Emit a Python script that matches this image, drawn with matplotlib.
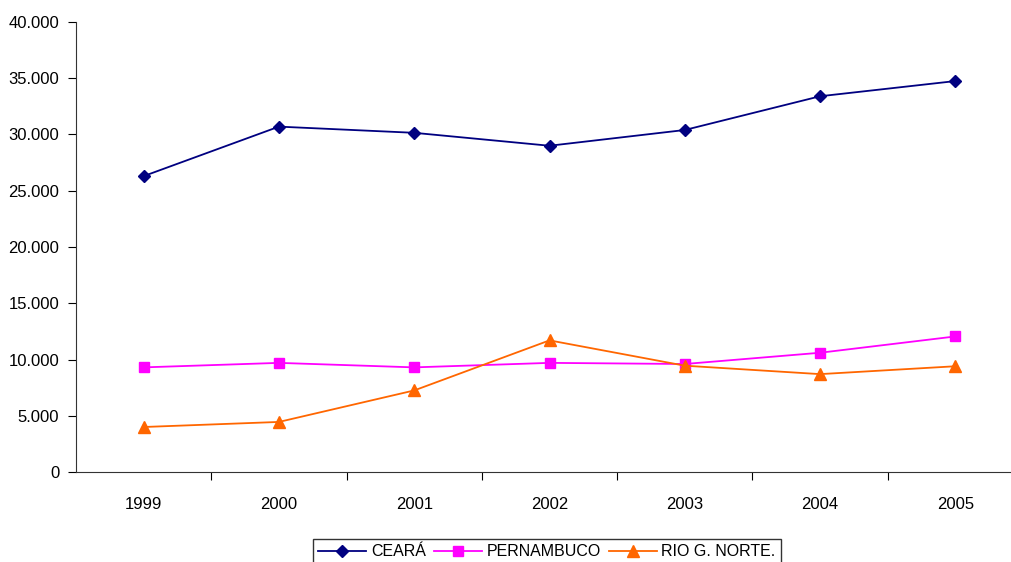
import matplotlib
matplotlib.use("Agg")
import matplotlib.pyplot as plt
from matplotlib.ticker import FuncFormatter

years = ["1999", "2000", "2001", "2002", "2003", "2004", "2005"]
ceara = [26300, 30700, 30150, 29000, 30400, 33400, 34750]
pernambuco = [9300, 9700, 9300, 9700, 9600, 10600, 12050]
rio_g_norte = [4000, 4450, 7250, 11700, 9450, 8700, 9400]

plt.rcParams.update({'font.family': 'Liberation Sans', 'font.size': 12})

fig = plt.figure(figsize=(10.11, 5.62), dpi=100)
ax = fig.add_axes([76 / 1011, 90 / 562, 947 / 1011, 450 / 562])

x = list(range(len(years)))
ax.plot(x, ceara, color='#000080', marker='D', markersize=6.5, linewidth=1.3, label='CEARÁ')
ax.plot(x, pernambuco, color='#FF00FF', marker='s', markersize=7, linewidth=1.3, label='PERNAMBUCO')
ax.plot(x, rio_g_norte, color='#FF6600', marker='^', markersize=8, linewidth=1.3, label='RIO G. NORTE.')

ax.set_xlim(-0.5, len(years) - 0.5)
ax.set_ylim(0, 40000)
ax.set_yticks(range(0, 40001, 5000))
ax.yaxis.set_major_formatter(FuncFormatter(lambda v, p: f"{int(v):,}".replace(",", ".")))

# category labels centred, ticks on the band edges
ax.set_xticks([i + 0.5 for i in x[:-1]])
ax.set_xticklabels([])
ax.set_xticks(x, minor=True)
ax.set_xticklabels(years, minor=True)
ax.tick_params(axis='x', which='minor', length=0, pad=18)
ax.tick_params(axis='x', which='major', length=6, direction='out')
ax.tick_params(axis='y', length=6, direction='out', pad=6)

for s in ['top', 'right']:
    ax.spines[s].set_visible(False)
for s in ['left', 'bottom']:
    ax.spines[s].set_color('#333333')

leg = fig.legend(loc='lower center', bbox_to_anchor=(547 / 1011, -0.012), ncol=3,
                 frameon=True, fancybox=False, edgecolor='black', fontsize=11.5,
                 handlelength=3.0, handletextpad=0.3, columnspacing=0.5,
                 borderpad=0.3, borderaxespad=0.3)
leg.get_frame().set_linewidth(1.0)
for t in leg.get_texts():
    t.set_fontstretch('condensed')

fig.savefig('out.png', dpi=100)
